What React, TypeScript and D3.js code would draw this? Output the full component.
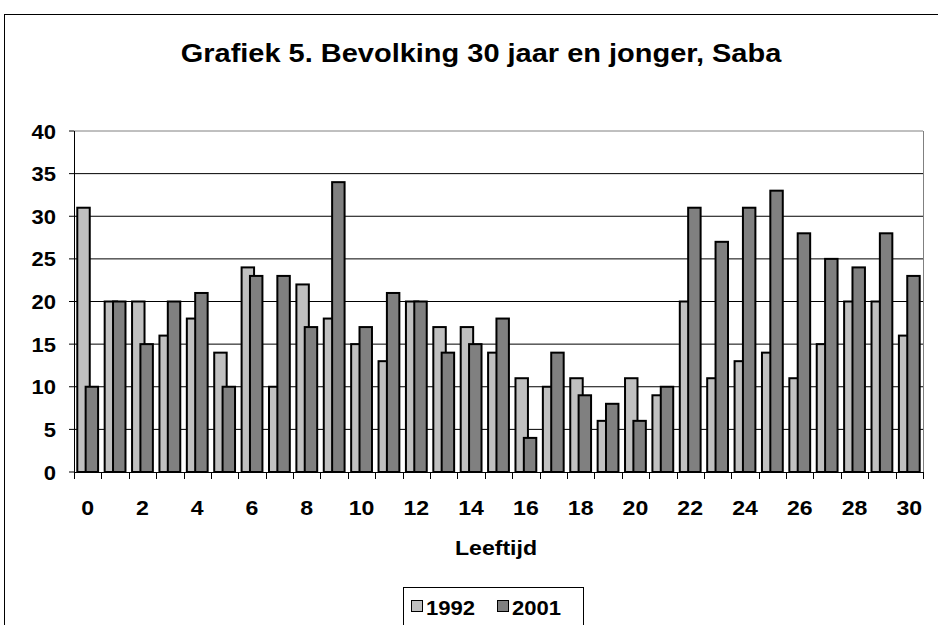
import React from "react";
import * as d3 from "d3";

const ages = d3.range(0, 31).map(String);
const v1992 = [31,20,20,16,18,14,24,10,22,18,15,13,20,17,17,14,11,10,11,6,11,9,20,11,13,14,11,15,20,20,16];
const v2001 = [10,20,15,20,21,10,23,23,17,34,17,21,20,14,15,18,4,14,9,8,6,10,31,27,31,33,28,25,24,28,23];
const series = ["1992", "2001"];
const colors = ["#c0c0c0", "#808080"];
const yTicks = [0,5,10,15,20,25,30,35,40];
const title = "Grafiek 5. Bevolking 30 jaar en jonger, Saba";
const xTitle = "Leeftijd";

const font = "'Liberation Sans', Arial, sans-serif";

function SText(props: { x: number; y: number; size: number; anchor?: string; sx?: number; children: React.ReactNode }) {
  const { x, y, size, anchor = "start", sx = 1.1, children } = props;
  return (
    <text transform={`translate(${x},${y}) scale(${sx},1)`} textAnchor={anchor} fontFamily={font} fontWeight="bold" fontSize={size}>
      {children}
    </text>
  );
}

export default function App() {
  const W = 938, H = 625;
  const L = 74, R = 923, T = 131, B = 472;
  const x = d3.scaleBand().domain(ages).range([L, R]).paddingInner(0).paddingOuter(0);
  const y = d3.scaleLinear().domain([0, 40]).range([B, T]);
  const bw = x.bandwidth();
  const barW = bw * 0.455;
  const off = bw * 0.305;
  const groupW = barW + off;
  const vals = [v1992, v2001];
  return (
    <svg width={W} height={H} style={{ position: "absolute", left: 0, top: 0 }}>
      <rect x={0} y={0} width={W} height={H} fill="#fff" />
      <rect x={4.5} y={14.5} width={W + 10} height={H} fill="none" stroke="#000" strokeWidth={1} />
      <SText x={481} y={62} size={26} anchor="middle" sx={1.115}>{title}</SText>
      {yTicks.map(t => (
        <g key={t}>
          {t > 0 && <line x1={L} x2={R} y1={y(t)} y2={y(t)} stroke={t === 40 ? "#808080" : "#000"} strokeWidth={1} />}
          <line x1={L - 5} x2={L} y1={y(t)} y2={y(t)} stroke="#000" />
          <SText x={56} y={y(t) + 7.5} size={20} anchor="end">{t}</SText>
        </g>
      ))}
      <line x1={R + 0.5} x2={R + 0.5} y1={T} y2={B} stroke="#808080" />
      {ages.map((a, i) => (
        <g key={a}>
          {vals.map((vs, s) => {
            const x0 = (x(a) as number) + (bw - groupW) / 2 + s * off;
            return (
              <rect key={s} x={x0} y={y(vs[i])} width={barW} height={B - y(vs[i])} fill={colors[s]} stroke="#000" strokeWidth={2} />
            );
          })}
        </g>
      ))}
      {ages.concat(["end"]).map((a, i) => {
        const xx = Math.round(L + i * bw) + 0.5;
        return <line key={"t" + i} x1={xx} x2={xx} y1={B} y2={B + 7} stroke="#000" />;
      })}
      <line x1={L + 0.5} x2={L + 0.5} y1={T} y2={B} stroke="#000" />
      <line x1={L} x2={R + 1} y1={B + 0.5} y2={B + 0.5} stroke="#000" />
      {ages.filter((_, i) => i % 2 === 0).map(a => (
        <SText key={"l" + a} x={(x(a) as number) + bw / 2} y={515} size={21} anchor="middle">{a}</SText>
      ))}
      <SText x={496} y={555} size={21} anchor="middle">{xTitle}</SText>
      <rect x={403.5} y={587.5} width={180} height={50} fill="#fff" stroke="#000" />
      {series.map((s, i) => (
        <g key={s}>
          <rect x={411.5 + i * 86} y={600.5} width={11} height={11} fill={colors[i]} stroke="#000" />
          <SText x={426 + i * 86} y={615} size={21} sx={1.05}>{s}</SText>
        </g>
      ))}
    </svg>
  );
}
